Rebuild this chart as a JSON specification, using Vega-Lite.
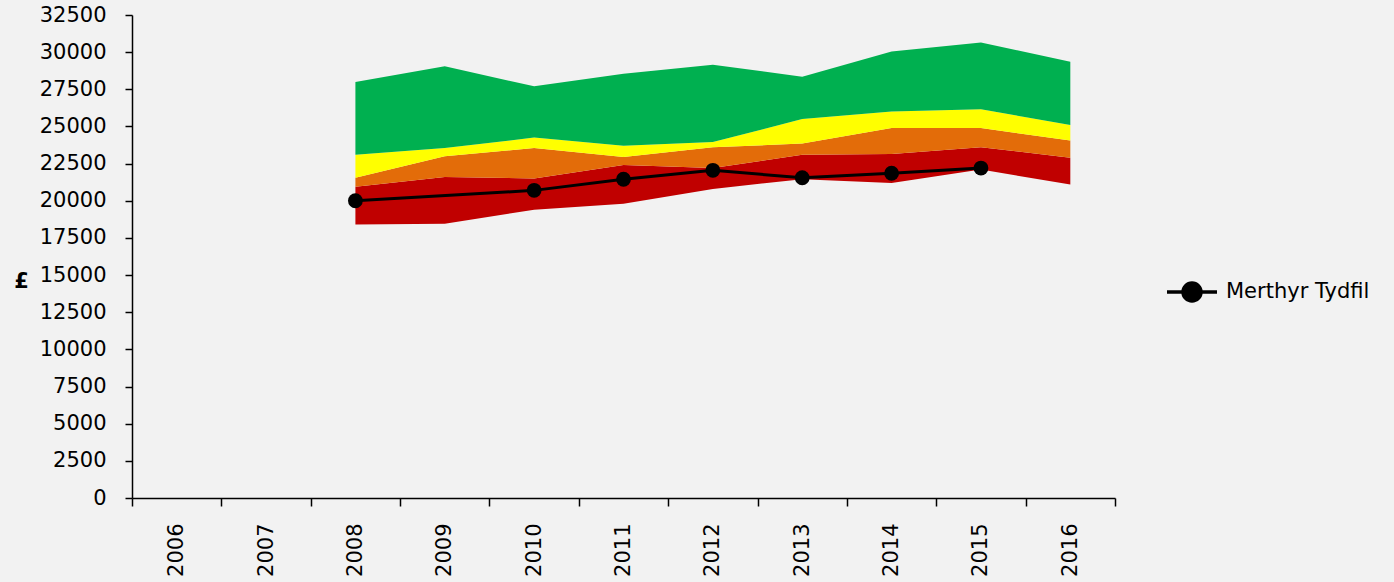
{
  "$schema": "https://vega.github.io/schema/vega-lite/v6.json",
  "width": 983,
  "height": 483,
  "autosize": {"type": "none"},
  "padding": {"left": 132, "top": 15, "right": 279, "bottom": 84},
  "background": "#f2f2f2",
  "config": {
    "view": {"stroke": null},
    "font": "DejaVu Sans",
    "axisY": {
      "titleAngle": 0,
      "titleFontWeight": "bold",
      "titleFontSize": 21,
      "titleFont": "DejaVu Sans",
      "titleColor": "#000000",
      "titleX": -111,
      "titleY": 266,
      "titleAlign": "center",
      "titleBaseline": "middle",
      "labelOverlap": false,
      "grid": false,
      "tickSize": 7,
      "labelPadding": 19,
      "labelFontSize": 21,
      "labelFont": "DejaVu Sans",
      "labelColor": "#000000",
      "domainColor": "#000000",
      "tickColor": "#000000",
      "domainWidth": 1.5,
      "tickWidth": 1.5
    }
  },
  "datasets": {
    "bands": [
      {"year": 2008, "band": "red", "lo": 18400, "hi": 20950},
      {"year": 2008, "band": "orange", "lo": 20950, "hi": 21550},
      {"year": 2008, "band": "yellow", "lo": 21550, "hi": 23100},
      {"year": 2008, "band": "green", "lo": 23100, "hi": 28000},
      {"year": 2009, "band": "red", "lo": 18450, "hi": 21600},
      {"year": 2009, "band": "orange", "lo": 21600, "hi": 23000},
      {"year": 2009, "band": "yellow", "lo": 23000, "hi": 23550},
      {"year": 2009, "band": "green", "lo": 23550, "hi": 29050},
      {"year": 2010, "band": "red", "lo": 19400, "hi": 21500},
      {"year": 2010, "band": "orange", "lo": 21500, "hi": 23550},
      {"year": 2010, "band": "yellow", "lo": 23550, "hi": 24250},
      {"year": 2010, "band": "green", "lo": 24250, "hi": 27700},
      {"year": 2011, "band": "red", "lo": 19800, "hi": 22400},
      {"year": 2011, "band": "orange", "lo": 22400, "hi": 22950},
      {"year": 2011, "band": "yellow", "lo": 22950, "hi": 23700},
      {"year": 2011, "band": "green", "lo": 23700, "hi": 28550},
      {"year": 2012, "band": "red", "lo": 20800, "hi": 22200},
      {"year": 2012, "band": "orange", "lo": 22200, "hi": 23600},
      {"year": 2012, "band": "yellow", "lo": 23600, "hi": 23950},
      {"year": 2012, "band": "green", "lo": 23950, "hi": 29150},
      {"year": 2013, "band": "red", "lo": 21450, "hi": 23100},
      {"year": 2013, "band": "orange", "lo": 23100, "hi": 23850},
      {"year": 2013, "band": "yellow", "lo": 23850, "hi": 25500},
      {"year": 2013, "band": "green", "lo": 25500, "hi": 28350},
      {"year": 2014, "band": "red", "lo": 21200, "hi": 23150},
      {"year": 2014, "band": "orange", "lo": 23150, "hi": 24900},
      {"year": 2014, "band": "yellow", "lo": 24900, "hi": 26000},
      {"year": 2014, "band": "green", "lo": 26000, "hi": 30050},
      {"year": 2015, "band": "red", "lo": 22100, "hi": 23600},
      {"year": 2015, "band": "orange", "lo": 23600, "hi": 24900},
      {"year": 2015, "band": "yellow", "lo": 24900, "hi": 26150},
      {"year": 2015, "band": "green", "lo": 26150, "hi": 30650},
      {"year": 2016, "band": "red", "lo": 21100, "hi": 22900},
      {"year": 2016, "band": "orange", "lo": 22900, "hi": 24050},
      {"year": 2016, "band": "yellow", "lo": 24050, "hi": 25100},
      {"year": 2016, "band": "green", "lo": 25100, "hi": 29350}
    ],
    "line": [
      {"year": 2008, "series": "Merthyr Tydfil", "value": 20000},
      {"year": 2010, "series": "Merthyr Tydfil", "value": 20700},
      {"year": 2011, "series": "Merthyr Tydfil", "value": 21450},
      {"year": 2012, "series": "Merthyr Tydfil", "value": 22050},
      {"year": 2013, "series": "Merthyr Tydfil", "value": 21550},
      {"year": 2014, "series": "Merthyr Tydfil", "value": 21850},
      {"year": 2015, "series": "Merthyr Tydfil", "value": 22200}
    ]
  },
  "layer": [
    {
      "data": {"name": "bands"},
      "mark": {"type": "area", "interpolate": "linear"},
      "encoding": {
        "x": {
          "field": "year",
          "type": "ordinal",
          "bandPosition": 0.5,
          "scale": {"type": "band", "domain": [2006, 2007, 2008, 2009, 2010, 2011, 2012, 2013, 2014, 2015, 2016], "paddingInner": 0, "paddingOuter": 0},
          "axis": {
            "title": null,
            "labelAngle": 270,
            "tickBand": "extent",
            "domainColor": "#000000",
            "tickColor": "#000000",
            "domainWidth": 1.5,
            "tickWidth": 1.5,
            "tickSize": 8,
            "labelPadding": 17,
            "labelFontSize": 21,
            "labelFont": "DejaVu Sans",
            "labelColor": "#000000",
            "labelOverlap": false
          }
        },
        "y": {
          "field": "hi",
          "type": "quantitative",
          "scale": {"domain": [0, 32500], "nice": false},
          "axis": {
            "title": "£",
            "values": [0, 2500, 5000, 7500, 10000, 12500, 15000, 17500, 20000, 22500, 25000, 27500, 30000, 32500],
            "tickCount": 30,
            "format": "d"
          }
        },
        "y2": {"field": "lo"},
        "fill": {
          "field": "band",
          "type": "nominal",
          "scale": {"domain": ["red", "orange", "yellow", "green"], "range": ["#c00000", "#e36c09", "#ffff00", "#00b050"]},
          "legend": null
        }
      }
    },
    {
      "data": {"name": "line"},
      "mark": {"type": "line", "strokeWidth": 3, "point": {"filled": true, "size": 220}},
      "encoding": {
        "x": {"field": "year", "type": "ordinal", "bandPosition": 0.5},
        "y": {
          "field": "value",
          "type": "quantitative",
          "axis": {
            "title": "£",
            "values": [0, 2500, 5000, 7500, 10000, 12500, 15000, 17500, 20000, 22500, 25000, 27500, 30000, 32500],
            "tickCount": 30,
            "format": "d"
          }
        },
        "color": {
          "field": "series",
          "type": "nominal",
          "scale": {"domain": ["Merthyr Tydfil"], "range": ["#000000"]},
          "legend": {
            "title": null,
            "orient": "none",
            "legendX": 1033,
            "legendY": 250,
            "symbolType": "M-1,0H1M-0.36,0A0.36,0.36,0,1,1,0.36,0A0.36,0.36,0,1,1,-0.36,0Z",
            "symbolSize": 2500,
            "symbolStrokeWidth": 3.5,
            "symbolFillColor": "#000000",
            "symbolStrokeColor": "#000000",
            "labelFontSize": 21,
            "labelFont": "DejaVu Sans",
            "labelColor": "#000000",
            "labelOffset": 7,
            "labelLimit": 0
          }
        }
      }
    }
  ]
}
